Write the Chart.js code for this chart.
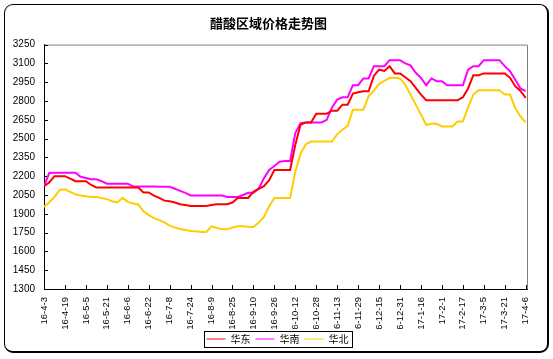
<!DOCTYPE html>
<html>
<head>
<meta charset="utf-8">
<script src="https://cdn.jsdelivr.net/npm/chart.js@4.4.0/dist/chart.umd.min.js"></script>
<style>
  html, body { margin: 0; padding: 0; background: #fff; }
  #wrap { position: relative; width: 553px; height: 359px; }
  #frame {
    position: absolute; left: 4px; top: 4px; width: 542px; height: 346px;
    border: 1px solid #000; border-right-width: 2px; border-bottom-width: 2px;
    border-radius: 9px; pointer-events: none;
  }
  canvas { position: absolute; left: 0; top: 0; }
</style>
</head>
<body>
<div id="wrap">
  <canvas id="priceChart" width="553" height="359"></canvas>
  <div id="frame"></div>
</div>
<script>
// dates on the x axis, one label every 16 days
const tickLabels = ["16-4-3", "16-4-19", "16-5-5", "16-5-21", "16-6-6", "16-6-22", "16-7-8", "16-7-24",
  "16-8-9", "16-8-25", "16-9-10", "16-9-26", "16-10-12", "16-10-28", "16-11-13", "16-11-29",
  "16-12-15", "16-12-31", "17-1-16", "17-2-1", "17-2-17", "17-3-5", "17-3-21", "17-4-6"];
const seriesNames = ["华东", "华南", "华北"];

// prices, one value every 4 days starting 16-4-3
const eastPrices = [
  2120, 2150, 2200, 2200, 2200, 2180, 2160, 2160, 2160, 2130,
  2110, 2110, 2110, 2110, 2110, 2110, 2110, 2110, 2110, 2070,
  2070, 2045, 2027, 2005, 2000, 1990, 1976, 1970, 1963, 1963,
  1963, 1963, 1970, 1976, 1976, 1976, 1990, 2027, 2027, 2027,
  2075, 2100, 2121, 2169, 2250, 2250, 2250, 2250, 2450, 2610,
  2629, 2629, 2699, 2699, 2699, 2723, 2723, 2771, 2771, 2859,
  2870, 2878, 2878, 3000, 3050, 3040, 3078, 3020, 3020, 2990,
  2958, 2904, 2851, 2806, 2806, 2806, 2806, 2806, 2806, 2806,
  2830, 2900, 3006, 3006, 3020, 3020, 3020, 3020, 3020, 2985,
  2918, 2880, 2825
];
const southPrices = [
  2120, 2225, 2228, 2228, 2228, 2228, 2228, 2195, 2185, 2175,
  2175, 2160, 2140, 2140, 2140, 2140, 2140, 2118, 2118, 2118,
  2118, 2118, 2115, 2115, 2115, 2100, 2083, 2067, 2046, 2046,
  2046, 2046, 2046, 2046, 2046, 2035, 2035, 2035, 2050, 2067,
  2067, 2100, 2183, 2250, 2282, 2316, 2321, 2321, 2544, 2624,
  2629, 2629, 2629, 2629, 2650, 2749, 2811, 2830, 2830, 2926,
  2926, 2980, 2980, 3078, 3078, 3078, 3126, 3126, 3126, 3100,
  3084, 3025, 2985, 2926, 2980, 2958, 2958, 2926, 2926, 2926,
  2926, 3050, 3078, 3078, 3126, 3126, 3126, 3126, 3078, 3038,
  2972, 2900, 2878
];
const northPrices = [
  1955, 1990, 2035, 2090, 2095, 2075, 2055, 2046, 2040, 2035,
  2035, 2025, 2017, 2000, 1990, 2027, 1995, 1982, 1975, 1920,
  1890, 1865, 1850, 1832, 1805, 1790, 1779, 1770, 1763, 1760,
  1755, 1755, 1800, 1787, 1776, 1776, 1790, 1800, 1800, 1797,
  1795, 1830, 1875, 1960, 2027, 2027, 2027, 2027, 2236, 2380,
  2455, 2476, 2476, 2476, 2476, 2476, 2536, 2570, 2602, 2731,
  2731, 2731, 2838, 2883, 2937, 2960, 2985, 2985, 2980, 2930,
  2851, 2771, 2691, 2610, 2618, 2618, 2597, 2597, 2597, 2637,
  2637, 2750, 2851, 2886, 2886, 2886, 2886, 2886, 2851, 2851,
  2744, 2677, 2629
];
const daysPerPoint = 4;
const daysPerTick = 16;

const latin = "'Liberation Sans', Arial, sans-serif";
const cjk = "'Noto Sans CJK SC', 'Liberation Sans', sans-serif";

function toPoints(values) {
  return values.map((v, i) => ({ x: i * daysPerPoint, y: v }));
}

// inner tick marks, grey top/right border and the box round the legend
const framePlugin = {
  id: "frame",
  afterLayout(chart) {
    // legend sits centred on the whole picture, not on the padded area
    chart.legend.left += 9;
    chart.legend.right += 9;
  },
  beforeDatasetsDraw(chart) {
    const ctx = chart.ctx, a = chart.chartArea;
    const xS = chart.scales.x, yS = chart.scales.y;
    ctx.save();
    ctx.lineWidth = 1;
    ctx.strokeStyle = "#808080";
    ctx.beginPath();
    ctx.moveTo(a.left, a.top + 0.5);
    ctx.lineTo(Math.round(a.right) + 0.5, a.top + 0.5);
    ctx.lineTo(Math.round(a.right) + 0.5, a.bottom);
    ctx.stroke();
    ctx.strokeStyle = "#000";
    ctx.beginPath();
    yS.ticks.forEach(t => {
      const y = Math.round(yS.getPixelForValue(t.value)) + 0.5;
      ctx.moveTo(a.left, y);
      ctx.lineTo(a.left + 4, y);
    });
    xS.ticks.forEach(t => {
      const x = Math.round(xS.getPixelForValue(t.value)) + 0.5;
      ctx.moveTo(x, a.bottom);
      ctx.lineTo(x, a.bottom - 4);
    });
    ctx.stroke();
    ctx.restore();
  },
  afterDraw(chart) {
    const boxes = chart.legend.legendHitBoxes;
    if (!boxes || !boxes.length) return;
    const left = Math.min(...boxes.map(b => b.left)) - 3;
    const right = Math.max(...boxes.map(b => b.left + b.width)) + 3;
    const top = Math.min(...boxes.map(b => b.top)) - 3;
    const bottom = Math.max(...boxes.map(b => b.top + b.height)) + 3;
    const ctx = chart.ctx;
    ctx.save();
    ctx.strokeStyle = "#000";
    ctx.lineWidth = 1;
    ctx.strokeRect(Math.round(left) + 0.5, Math.round(top) + 0.5, Math.round(right - left), Math.round(bottom - top));
    ctx.restore();
  }
};

const ctx = document.getElementById("priceChart").getContext("2d");
new Chart(ctx, {
  type: "line",
  data: {
    datasets: [
      { label: seriesNames[0], data: toPoints(eastPrices), borderColor: "#FF0000", backgroundColor: "#FF0000" },
      { label: seriesNames[1], data: toPoints(southPrices), borderColor: "#FF00FF", backgroundColor: "#FF00FF" },
      { label: seriesNames[2], data: toPoints(northPrices), borderColor: "#FFCC00", backgroundColor: "#FFCC00" }
    ]
  },
  options: {
    responsive: false,
    animation: false,
    events: [],
    elements: {
      line: { borderWidth: 2, tension: 0 },
      point: { radius: 0 }
    },
    layout: { padding: { left: 10, right: 26, top: 6, bottom: 5 } },
    plugins: {
      title: {
        display: true,
        text: "醋酸区域价格走势图",
        color: "#000",
        font: { family: cjk, size: 13, weight: "bold" },
        padding: { top: 9, bottom: 14 }
      },
      legend: {
        position: "bottom",
        labels: {
          color: "#000",
          font: { family: cjk, size: 10 },
          usePointStyle: true,
          pointStyle: "line",
          pointStyleWidth: 19,
          padding: 5
        }
      },
      tooltip: { enabled: false }
    },
    scales: {
      x: {
        type: "linear",
        min: 0,
        max: 369,
        afterBuildTicks: scale => {
          scale.ticks = tickLabels.map((t, i) => ({ value: i * daysPerTick }));
        },
        afterFit: scale => { scale.height = 40; },
        ticks: {
          autoSkip: false,
          minRotation: 90,
          maxRotation: 90,
          padding: 8,
          color: "#000",
          font: { family: latin, size: 9.5 },
          callback: v => tickLabels[Math.round(v / daysPerTick)]
        },
        grid: { display: false, drawTicks: false },
        border: { color: "#000", width: 1 }
      },
      y: {
        min: 1300,
        max: 3250,
        afterFit: scale => { scale.width = 34; },
        ticks: {
          stepSize: 150,
          padding: 9,
          color: "#000",
          font: { family: latin, size: 10 },
          callback: v => String(v)
        },
        grid: { display: false, drawTicks: false },
        border: { color: "#000", width: 1 }
      }
    }
  },
  plugins: [framePlugin]
});
</script>
</body>
</html>
